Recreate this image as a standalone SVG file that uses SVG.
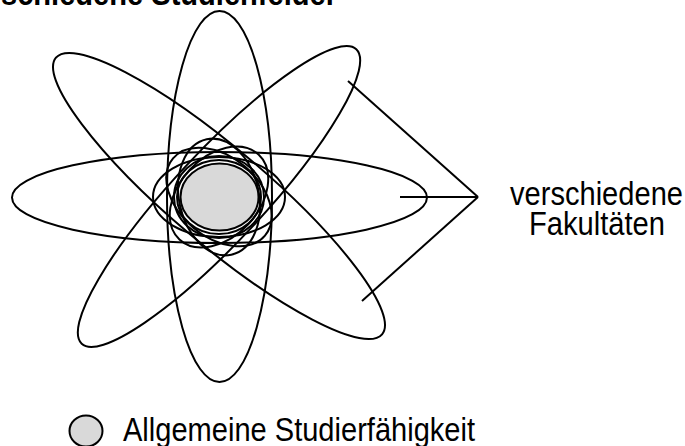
<svg xmlns="http://www.w3.org/2000/svg" width="685" height="446" viewBox="0 0 685 446">
<style>
.o{fill:none;stroke:#000;stroke-width:2}
.core{fill:#d9d9d9;stroke:#000;stroke-width:2}
.ln{stroke:#000;stroke-width:2;fill:none}
.t{font-family:"Liberation Sans",Arial,sans-serif;font-size:33px;fill:#000}
</style>
<rect width="685" height="446" fill="#fff"/>
<g id="title"><text class="t" x="1" y="5" font-weight="bold" textLength="336" lengthAdjust="spacingAndGlyphs">schiedene Studienfelder</text></g>
<g id="faculties">
<g id="fac-vertical"><ellipse class="o" cx="219.5" cy="196.5" rx="52.5" ry="185.5"/></g>
<g id="fac-horizontal"><ellipse class="o" cx="219.5" cy="197.5" rx="207.5" ry="45.5"/></g>
<g id="fac-diag1"><ellipse class="o" cx="0" cy="0" rx="213.8" ry="48" transform="translate(219 196) rotate(40.3)"/></g>
<g id="fac-diag2"><ellipse class="o" cx="0" cy="0" rx="201.3" ry="45" transform="translate(219 196.5) rotate(-47)"/></g>
</g>
<g id="inner">
<ellipse class="o" cx="0" cy="0" rx="40" ry="59" transform="translate(219 197) rotate(-12)"/>
<ellipse class="o" cx="0" cy="0" rx="66" ry="40" transform="translate(219 197)"/>
<ellipse class="o" cx="0" cy="0" rx="60" ry="40" transform="translate(219 197) rotate(40)"/>
<ellipse class="o" cx="0" cy="0" rx="58" ry="40" transform="translate(219 197) rotate(-47)"/>
<ellipse class="o" cx="219" cy="197" rx="45" ry="41"/>
<ellipse class="o" cx="219" cy="197" rx="42" ry="37"/>
</g>
<g id="core"><ellipse class="core" cx="219.5" cy="197" rx="39" ry="33.5"/></g>
<g id="connectors">
<line class="ln" x1="348" y1="81" x2="478" y2="197"/>
<line class="ln" x1="400" y1="197" x2="478" y2="197"/>
<line class="ln" x1="362" y1="301" x2="478" y2="197"/>
</g>
<g id="label">
<text class="t" x="510" y="205" textLength="173" lengthAdjust="spacingAndGlyphs">verschiedene</text>
<text class="t" x="529" y="235" textLength="136" lengthAdjust="spacingAndGlyphs">Fakultäten</text>
</g>
<g id="legend">
<ellipse class="core" cx="86" cy="431" rx="16.5" ry="15.5"/>
<text class="t" x="123" y="441" font-size="34" textLength="352" lengthAdjust="spacingAndGlyphs">Allgemeine Studierfähigkeit</text>
</g>
</svg>
